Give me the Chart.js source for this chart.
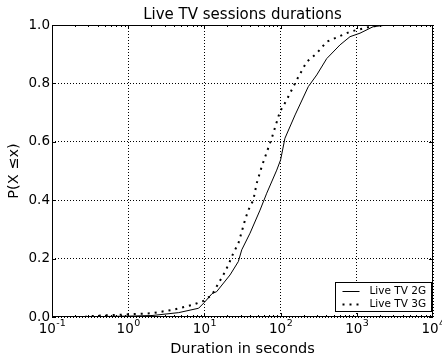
<!DOCTYPE html>
<html>
<head>
<meta charset="utf-8">
<script src="https://cdn.jsdelivr.net/npm/chart.js@4.4.1/dist/chart.umd.min.js"></script>
<style>
  html, body { margin: 0; padding: 0; background: #fff; }
  #wrap { width: 442px; height: 358px; }
</style>
</head>
<body>
<div id="wrap"><canvas id="cdfChart" width="442" height="358"></canvas></div>
<script>
// session durations (s) and CDF values
const durations2G = [0.1, 0.32, 1.0, 2.05, 4.6, 8.4, 10, 12.6, 14.5, 21.7, 27.9, 30.9, 39.7, 53.7, 65.8, 89, 100, 114, 155, 231, 298, 403, 603, 815, 1102, 1633, 2470, 10000];
const cdf2G       = [0.0, 0.001, 0.003, 0.005, 0.015, 0.03, 0.05, 0.08, 0.087, 0.144, 0.19, 0.23, 0.287, 0.366, 0.424, 0.503, 0.538, 0.612, 0.692, 0.789, 0.829, 0.885, 0.932, 0.96, 0.972, 0.994, 1.0, 1.0];

const durations3G = [0.27, 0.30, 0.67, 1.0, 2.05, 3.76, 6.9, 9.7, 12.5, 17.7, 20.6, 23.9, 27.9, 30.9, 34.1, 37.7, 43.8, 48.6, 56.5, 76.4, 98, 120, 163, 220, 298, 403, 815, 1490, 2208, 10000];
const cdf3G       = [0.0, 0.003, 0.007, 0.009, 0.013, 0.024, 0.041, 0.055, 0.075, 0.144, 0.178, 0.218, 0.252, 0.292, 0.332, 0.366, 0.4, 0.458, 0.515, 0.612, 0.703, 0.743, 0.812, 0.874, 0.903, 0.943, 0.977, 0.994, 1.0, 1.0];

const seriesLabels = ['Live TV 2G', 'Live TV 3G'];
const xTickValues  = [0.1, 1, 10, 100, 1000, 10000];
const xTickExps    = ['-1', '0', '1', '2', '3', '4'];   // shown as 10^n
const yTickValues  = [0, 0.2, 0.4, 0.6, 0.8, 1.0];
const yTickLabels  = ['0.0', '0.2', '0.4', '0.6', '0.8', '1.0'];

const FONT = "'DejaVu Sans', sans-serif";

function toPoints(xs, ys) {
  return xs.map((x, i) => ({ x: x, y: ys[i] }));
}

// ─────────────────────────────────────────────────────────────
// frame, inward ticks (matplotlib style), 10^n labels and the boxed legend
const framePlugin = {
  id: 'frame',
  afterDatasetsDraw(chart) {
    const { ctx, chartArea: a, scales } = chart;
    const xs = scales.x, ys = scales.y;
    ctx.save();
    ctx.strokeStyle = '#000';
    ctx.lineWidth = 1;
    ctx.strokeRect(Math.round(a.left) + 0.5, Math.round(a.top) + 0.5,
                   Math.round(a.right - a.left) - 1, Math.round(a.bottom - a.top) - 1);

    ctx.beginPath();
    // x: major ticks at decades, minor at 2..9
    for (let d = -1; d <= 3; d++) {
      for (let m = 1; m <= 9; m++) {
        const px = Math.round(xs.getPixelForValue(m * Math.pow(10, d))) + 0.5;
        const len = m === 1 ? 4 : 2;
        ctx.moveTo(px, a.bottom); ctx.lineTo(px, a.bottom - len);
        ctx.moveTo(px, a.top);    ctx.lineTo(px, a.top + len);
      }
    }
    yTickValues.forEach(v => {
      const py = Math.round(ys.getPixelForValue(v)) + 0.5;
      ctx.moveTo(a.left, py);  ctx.lineTo(a.left + 4, py);
      ctx.moveTo(a.right, py); ctx.lineTo(a.right - 4, py);
    });
    ctx.stroke();

    // x tick labels as 10 with a raised exponent
    ctx.fillStyle = '#000';
    ctx.textBaseline = 'alphabetic';
    ctx.textAlign = 'left';
    xTickValues.forEach((v, i) => {
      const px = xs.getPixelForValue(v);
      ctx.font = '13.5px ' + FONT;
      const wBase = ctx.measureText('10').width;
      ctx.font = '9.5px ' + FONT;
      const wExp = ctx.measureText(xTickExps[i]).width;
      const x0 = px - (wBase + wExp) / 2;
      ctx.font = '13.5px ' + FONT;
      ctx.fillText('10', x0, a.bottom + 16);
      ctx.font = '9.5px ' + FONT;
      ctx.fillText(xTickExps[i], x0 + wBase + 0.5, a.bottom + 9);
    });

    // legend box, lower right
    const bw = 96, bh = 29;
    const bx = Math.round(a.right) - bw - 1.5, by = Math.round(a.bottom) - bh - 5.5;
    ctx.fillStyle = '#fff';
    ctx.fillRect(bx, by, bw, bh);
    ctx.strokeRect(bx, by, bw, bh);
    ctx.font = '10.5px ' + FONT;
    ctx.textBaseline = 'middle';
    ctx.fillStyle = '#000';
    chart.data.datasets.forEach((ds, i) => {
      const cy = by + 8.5 + i * 13;
      ctx.save();
      ctx.lineWidth = ds.borderWidth;
      ctx.setLineDash(ds.borderDash || []);
      ctx.beginPath();
      ctx.moveTo(bx + 7, Math.round(cy) + 0.5);
      ctx.lineTo(bx + 24, Math.round(cy) + 0.5);
      ctx.stroke();
      ctx.restore();
      ctx.fillText(ds.label, bx + 34, cy);
    });
    ctx.restore();
  }
};

// ─────────────────────────────────────────────────────────────
new Chart(document.getElementById('cdfChart'), {
  type: 'scatter',
  data: {
    datasets: [
      {
        label: seriesLabels[0],
        data: toPoints(durations2G, cdf2G),
        showLine: true,
        borderColor: '#000',
        borderWidth: 1,
        pointRadius: 0,
        tension: 0
      },
      {
        label: seriesLabels[1],
        data: toPoints(durations3G, cdf3G),
        showLine: true,
        borderColor: '#000',
        borderWidth: 2,
        borderDash: [2, 5],
        borderCapStyle: 'butt',
        pointRadius: 0,
        tension: 0
      }
    ]
  },
  options: {
    responsive: false,
    animation: false,
    devicePixelRatio: 1,
    layout: { padding: { left: 0, right: 9, top: 0, bottom: 0 } },
    plugins: {
      legend: { display: false },
      tooltip: { enabled: false },
      title: {
        display: true,
        fullSize: false,
        text: 'Live TV sessions durations',
        color: '#000',
        font: { family: FONT, size: 15, weight: 'normal' },
        padding: { top: 6, bottom: 1 }
      }
    },
    scales: {
      x: {
        type: 'logarithmic',
        min: 0.1,
        max: 10000,
        afterBuildTicks: s => { s.ticks = xTickValues.map(v => ({ value: v })); },
        afterFit: s => { s.height = 41; s.paddingLeft = 0; s.paddingRight = 0; },
        ticks: { display: false },
        grid: { color: '#000', lineWidth: 1, drawTicks: false },
        border: { display: false, dash: [1, 2] },
        title: {
          display: true,
          text: 'Duration in seconds',
          color: '#000',
          font: { family: FONT, size: 14.5 },
          padding: { top: 0, bottom: 0 }
        }
      },
      y: {
        min: 0,
        max: 1,
        afterBuildTicks: s => { s.ticks = yTickValues.map(v => ({ value: v })); },
        afterFit: s => { s.width = 52; s.paddingTop = 0; s.paddingBottom = 0; },
        ticks: {
          color: '#000',
          font: { family: FONT, size: 13.5 },
          padding: 2,
          callback: (v, i) => yTickLabels[i]
        },
        grid: { color: '#000', lineWidth: 1, drawTicks: false },
        border: { display: false, dash: [1, 2] },
        title: {
          display: true,
          text: 'P(X ≤x)',
          color: '#000',
          font: { family: FONT, size: 14.5 },
          padding: { top: 6, bottom: 0 }
        }
      }
    }
  },
  plugins: [framePlugin]
});
</script>
</body>
</html>
